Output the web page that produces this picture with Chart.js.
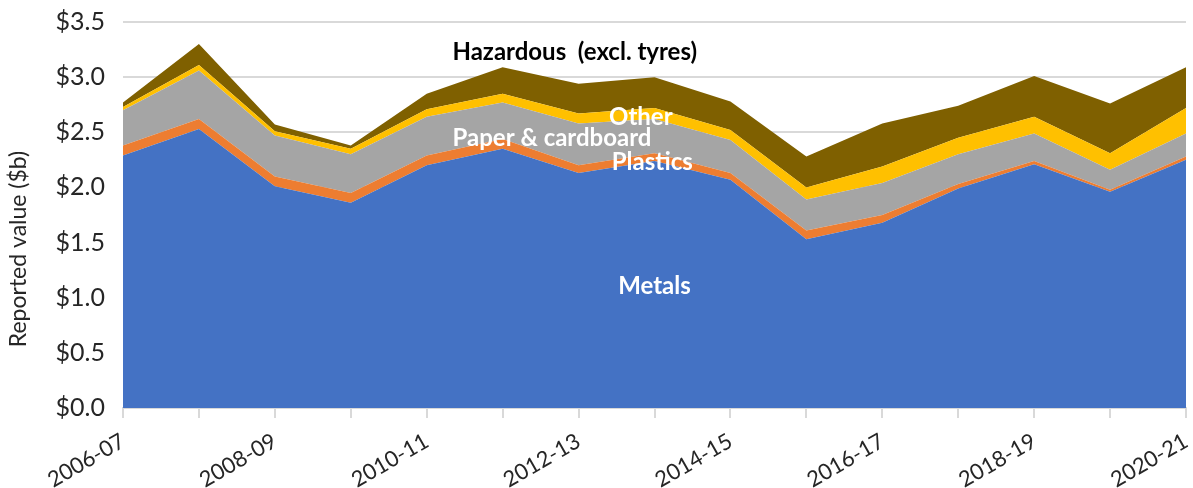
<!DOCTYPE html>
<html>
<head>
<meta charset="utf-8">
<script src="https://cdn.jsdelivr.net/npm/chart.js@4/dist/chart.umd.min.js"></script>
<style>
  html, body { margin: 0; padding: 0; background: #fff; }
  #wrap { width: 1193px; height: 488px; }
</style>
</head>
<body>
<div id="wrap"><canvas id="wasteChart" width="1193" height="488"></canvas></div>
<script>
// Financial years on the x axis
const years = ['2006-07', '2007-08', '2008-09', '2009-10', '2010-11', '2011-12', '2012-13',
    '2013-14', '2014-15', '2015-16', '2016-17', '2017-18', '2018-19', '2019-20', '2020-21'];

// Reported value by material ($b), stacked bottom to top
const metals = [2.29, 2.53, 2.01, 1.86, 2.20, 2.35, 2.13, 2.24, 2.07, 1.53, 1.68, 1.99, 2.21, 1.96, 2.25];
const plastics = [0.09, 0.09, 0.09, 0.09, 0.09, 0.09, 0.07, 0.07, 0.06, 0.08, 0.07, 0.04, 0.03, 0.02, 0.03];
const paper = [0.32, 0.44, 0.37, 0.35, 0.35, 0.33, 0.38, 0.31, 0.30, 0.28, 0.29, 0.27, 0.25, 0.18, 0.21];
const other = [0.03, 0.05, 0.04, 0.05, 0.07, 0.08, 0.09, 0.10, 0.09, 0.11, 0.15, 0.15, 0.15, 0.15, 0.23];
const hazardous = [0.04, 0.19, 0.06, 0.03, 0.14, 0.24, 0.27, 0.28, 0.26, 0.28, 0.39, 0.29, 0.37, 0.45, 0.37];

const yTicks = [0, 0.5, 1, 1.5, 2, 2.5, 3, 3.5];
const yTitle = 'Reported value ($b)';

// In-chart series labels, placed in data units (category index, $b)
const seriesLabels = [
    { text: 'Hazardous  (excl. tyres)', at: 5.95, value: 3.23, color: '#000000' },
    { text: 'Other', at: 6.82, value: 2.64, color: '#ffffff' },
    { text: 'Paper & cardboard', at: 5.65, value: 2.45, color: '#ffffff' },
    { text: 'Plastics', at: 6.97, value: 2.23, color: '#ffffff' },
    { text: 'Metals', at: 7.0, value: 1.10, color: '#ffffff' }
];

const FONT = 'Lato, "Open Sans", sans-serif';

function area(label, data, color, fill) {
    return {
        label: label,
        data: data,
        backgroundColor: color,
        borderColor: color,
        borderWidth: 0,
        pointRadius: 0,
        fill: fill,
        tension: 0
    };
}

// Draws the series names onto the areas, plus the y axis title
const labelPlugin = {
    id: 'seriesLabels',
    afterDatasetsDraw(chart) {
        const ctx = chart.ctx;
        const x = chart.scales.x;
        const y = chart.scales.y;
        const area = chart.chartArea;
        ctx.save();
        ctx.font = 'bold 24px ' + FONT;
        ctx.textAlign = 'center';
        ctx.textBaseline = 'middle';
        seriesLabels.forEach(l => {
            ctx.fillStyle = l.color;
            ctx.fillText(l.text, x.getPixelForValue(l.at), y.getPixelForValue(l.value));
        });

        // axis title sits a little below the middle, like the original
        ctx.font = '23px ' + FONT;
        ctx.fillStyle = '#262626';
        ctx.translate(19, (area.top + area.bottom) / 2 + 34);
        ctx.rotate(-Math.PI / 2);
        ctx.fillText(yTitle, 0, 0);
        ctx.restore();
    }
};

new Chart(document.getElementById('wasteChart').getContext('2d'), {
    type: 'line',
    data: {
        labels: years,
        datasets: [
            area('Metals', metals, '#4472C4', 'origin'),
            area('Plastics', plastics, '#ED7D31', '-1'),
            area('Paper & cardboard', paper, '#A5A5A5', '-1'),
            area('Other', other, '#FFC000', '-1'),
            area('Hazardous (excl. tyres)', hazardous, '#7F6000', '-1')
        ]
    },
    options: {
        responsive: false,
        animation: false,
        layout: { padding: { left: 0, right: 7, top: 22, bottom: 0 } },
        plugins: {
            legend: { display: false },
            tooltip: { enabled: false }
        },
        scales: {
            x: {
                offset: false,
                afterFit: function (scale) {
                    scale.height = 80;
                    scale.paddingRight = 0;
                    scale.paddingLeft = 0;
                },
                grid: {
                    drawOnChartArea: false,
                    drawTicks: true,
                    tickLength: 10,
                    color: '#d9d9d9',
                    lineWidth: 2
                },
                border: { color: '#d9d9d9', width: 2 },
                ticks: {
                    autoSkip: false,
                    maxRotation: 30,
                    minRotation: 30,
                    padding: 10,
                    color: '#262626',
                    font: { family: FONT, size: 22 },
                    callback: function (val, index) {
                        return index % 2 === 0 ? years[index] : '';
                    }
                }
            },
            y: {
                stacked: true,
                min: 0,
                max: 3.5,
                afterBuildTicks: function (axis) {
                    axis.ticks = yTicks.map(v => ({ value: v }));
                },
                afterFit: function (scale) {
                    scale.width = 123;
                    scale.paddingTop = 0;
                    scale.paddingBottom = 0;
                },
                grid: { color: '#d9d9d9', lineWidth: 2, drawTicks: false },
                border: { display: false },
                ticks: {
                    padding: 18,
                    color: '#262626',
                    font: { family: FONT, size: 25 },
                    callback: v => '$' + v.toFixed(1)
                }
            }
        }
    },
    plugins: [labelPlugin]
});
</script>
</body>
</html>
